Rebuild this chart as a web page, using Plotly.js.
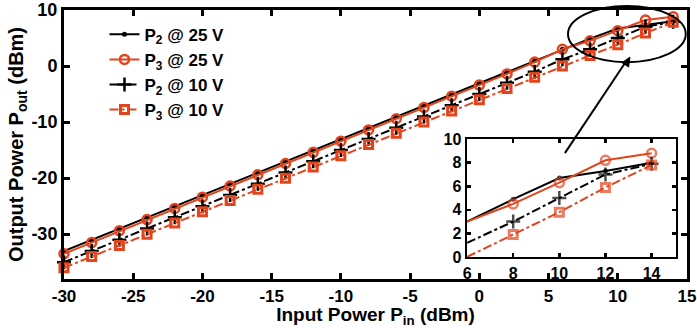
<!DOCTYPE html>
<html>
<head>
<meta charset="utf-8">
<script src="https://cdn.plot.ly/plotly-3.0.1.min.js"></script>
<style>
  html, body { margin: 0; padding: 0; background: #ffffff; }
  #chart { width: 697px; height: 328px; }
</style>
</head>
<body>
<div id="chart"></div>
<script>
// Input power sweep (dBm)
const pin = [-30, -28, -26, -24, -22, -20, -18, -16, -14, -12, -10, -8, -6, -4, -2, 0, 2, 4, 6, 8, 10, 12, 14];

// Output power (dBm) for each port / bias
const p2At25V = [-33.0, -31.0, -29.0, -27.0, -25.0, -23.0, -21.0, -19.0, -17.0, -15.0, -13.0, -11.0, -9.0, -7.0, -5.0, -3.0, -1.0, 1.0, 3.0, 4.9, 6.7, 7.3, 8.0];
const p3At25V = [-33.5, -31.5, -29.4, -27.4, -25.4, -23.4, -21.4, -19.4, -17.4, -15.4, -13.4, -11.4, -9.4, -7.4, -5.4, -3.4, -1.4, 0.7, 3.0, 4.5, 6.3, 8.2, 8.8];
const p2At10V = [-35.0, -33.0, -31.0, -29.0, -27.0, -25.0, -23.0, -21.0, -19.0, -17.0, -15.0, -13.0, -11.0, -9.0, -7.0, -5.0, -3.0, -1.0, 1.2, 3.0, 5.0, 7.0, 7.9];
const p3At10V = [-36.0, -34.0, -32.0, -30.0, -28.0, -26.0, -24.0, -22.0, -20.0, -18.0, -16.0, -14.0, -12.0, -10.0, -8.0, -6.0, -4.0, -2.0, 0.0, 1.9, 3.8, 5.9, 7.8];

const seriesNames = ['P<sub>2</sub> @ 25 V', 'P<sub>3</sub> @ 25 V', 'P<sub>2</sub> @ 10 V', 'P<sub>3</sub> @ 10 V'];

const xTicks = [-30, -25, -20, -15, -10, -5, 0, 5, 10, 15];
const xTickLabels = ['-30', '-25', '-20', '-15', '-10', '-5', '0', '5', '10', '15'];
const yTicks = [-30, -20, -10, 0, 10];
const yTickLabels = ['-30', '-20', '-10', '0', '10'];
const insetXTicks = [6, 8, 10, 12, 14];
const insetYTicks = [0, 2, 4, 6, 8, 10];

// zoomed region shown in the inset starts at Pin = 6 dBm
const zoomStart = pin.indexOf(6);

const RED = '#e2441c';
const BLACK = '#000000';
const FONT = 'Liberation Sans, Arial, sans-serif';

const styles = [
  { color: BLACK, dash: 'solid',   symbol: 'circle',          msize: 5,  mline: 0 },
  { color: RED,   dash: 'solid',   symbol: 'circle-open',     msize: 9,  mline: 2.5 },
  { color: BLACK, dash: 'dashdot', symbol: 'cross-thin-open', msize: 10, mline: 2.5 },
  { color: RED,   dash: 'dashdot', symbol: 'square-open',     msize: 8,  mline: 3 }
];
const allSeries = [p2At25V, p3At25V, p2At10V, p3At10V];

const traces = [];
allSeries.forEach((vals, i) => {
  const s = styles[i];
  traces.push({
    x: pin, y: vals, name: seriesNames[i], type: 'scatter', mode: 'lines+markers',
    line: { color: s.color, width: 2, dash: s.dash },
    marker: { color: s.color, symbol: s.symbol, size: s.msize, line: { color: s.color, width: s.mline } },
    xaxis: 'x', yaxis: 'y', cliponaxis: false
  });
});
// inset traces (no marker at the left edge point)
allSeries.forEach((vals, i) => {
  const s = styles[i];
  const xs = pin.slice(zoomStart);
  const ys = vals.slice(zoomStart);
  traces.push({
    x: xs, y: ys, showlegend: false, type: 'scatter', mode: 'lines+markers',
    line: { color: s.color, width: 2, dash: s.dash },
    marker: { color: s.color, symbol: s.symbol, size: xs.map((v, k) => k === 0 ? 0 : s.msize),
              line: { color: s.color, width: s.mline } },
    xaxis: 'x2', yaxis: 'y2', cliponaxis: true
  });
});

const axisCommon = {
  showgrid: false, zeroline: false, showline: true, linecolor: BLACK,
  ticks: 'inside', tickcolor: BLACK, mirror: 'allticks', ticklabeloverflow: 'allow'
};

const layout = {
  width: 697, height: 328,
  margin: { l: 64, r: 10, t: 10, b: 49 },
  paper_bgcolor: '#ffffff', plot_bgcolor: '#ffffff',
  font: { family: FONT, color: BLACK },
  showlegend: true,
  legend: {
    x: 0.065, y: 0.975, xanchor: 'left', yanchor: 'top',
    bgcolor: 'rgba(0,0,0,0)', borderwidth: 0,
    font: { family: FONT, size: 17, color: BLACK, weight: 'bold' },
    itemwidth: 30, tracegroupgap: 0
  },
  xaxis: Object.assign({}, axisCommon, {
    domain: [0, 1], range: [-30, 15], tickvals: xTicks, ticktext: xTickLabels,
    linewidth: 3, ticklen: 6, tickwidth: 3,
    tickfont: { family: FONT, size: 17, weight: 'bold' },
    title: { text: 'Input Power P<sub>in</sub> (dBm)', standoff: 5,
             font: { family: FONT, size: 19, weight: 'bold' } },
    anchor: 'y'
  }),
  yaxis: Object.assign({}, axisCommon, {
    domain: [0, 1], range: [-38, 10], tickvals: yTicks, ticktext: yTickLabels,
    linewidth: 3, ticklen: 6, tickwidth: 3,
    tickfont: { family: FONT, size: 18, weight: 'bold' },
    title: { text: 'Output Power P<sub>out</sub> (dBm)', standoff: 3,
             font: { family: FONT, size: 20, weight: 'bold' } },
    anchor: 'x'
  }),
  xaxis2: Object.assign({}, axisCommon, {
    domain: [0.647, 0.982], range: [6, 15.05], tickvals: insetXTicks, linewidth: 2.5, ticklen: 4, tickwidth: 2.5,
    tickfont: { family: FONT, size: 16, weight: 'bold' }, anchor: 'y2'
  }),
  yaxis2: Object.assign({}, axisCommon, {
    domain: [0.082, 0.52], range: [0, 10], tickvals: insetYTicks, linewidth: 2.5, ticklen: 4, tickwidth: 2.5,
    tickfont: { family: FONT, size: 16, weight: 'bold' }, anchor: 'x2'
  }),
  shapes: [
    // ellipse marking the zoomed high-power region
    { type: 'circle', xref: 'paper', yref: 'paper', x0: 0.809, x1: 0.998, y0: 0.806, y1: 1.015,
      line: { color: BLACK, width: 2 } },
    // pointer from the inset up to the ellipse
    { type: 'line', xref: 'paper', yref: 'paper', x0: 0.804, y0: 0.468, x1: 0.904, y1: 0.815,
      line: { color: BLACK, width: 2 } },
    { type: 'path', xref: 'paper', yref: 'paper',
      path: 'M 0.9085 0.825 L 0.9063 0.788 L 0.8957 0.804 Z',
      fillcolor: BLACK, line: { color: BLACK, width: 1 } }
  ]
};

Plotly.newPlot('chart', traces, layout, { displayModeBar: false, staticPlot: true });
</script>
</body>
</html>
